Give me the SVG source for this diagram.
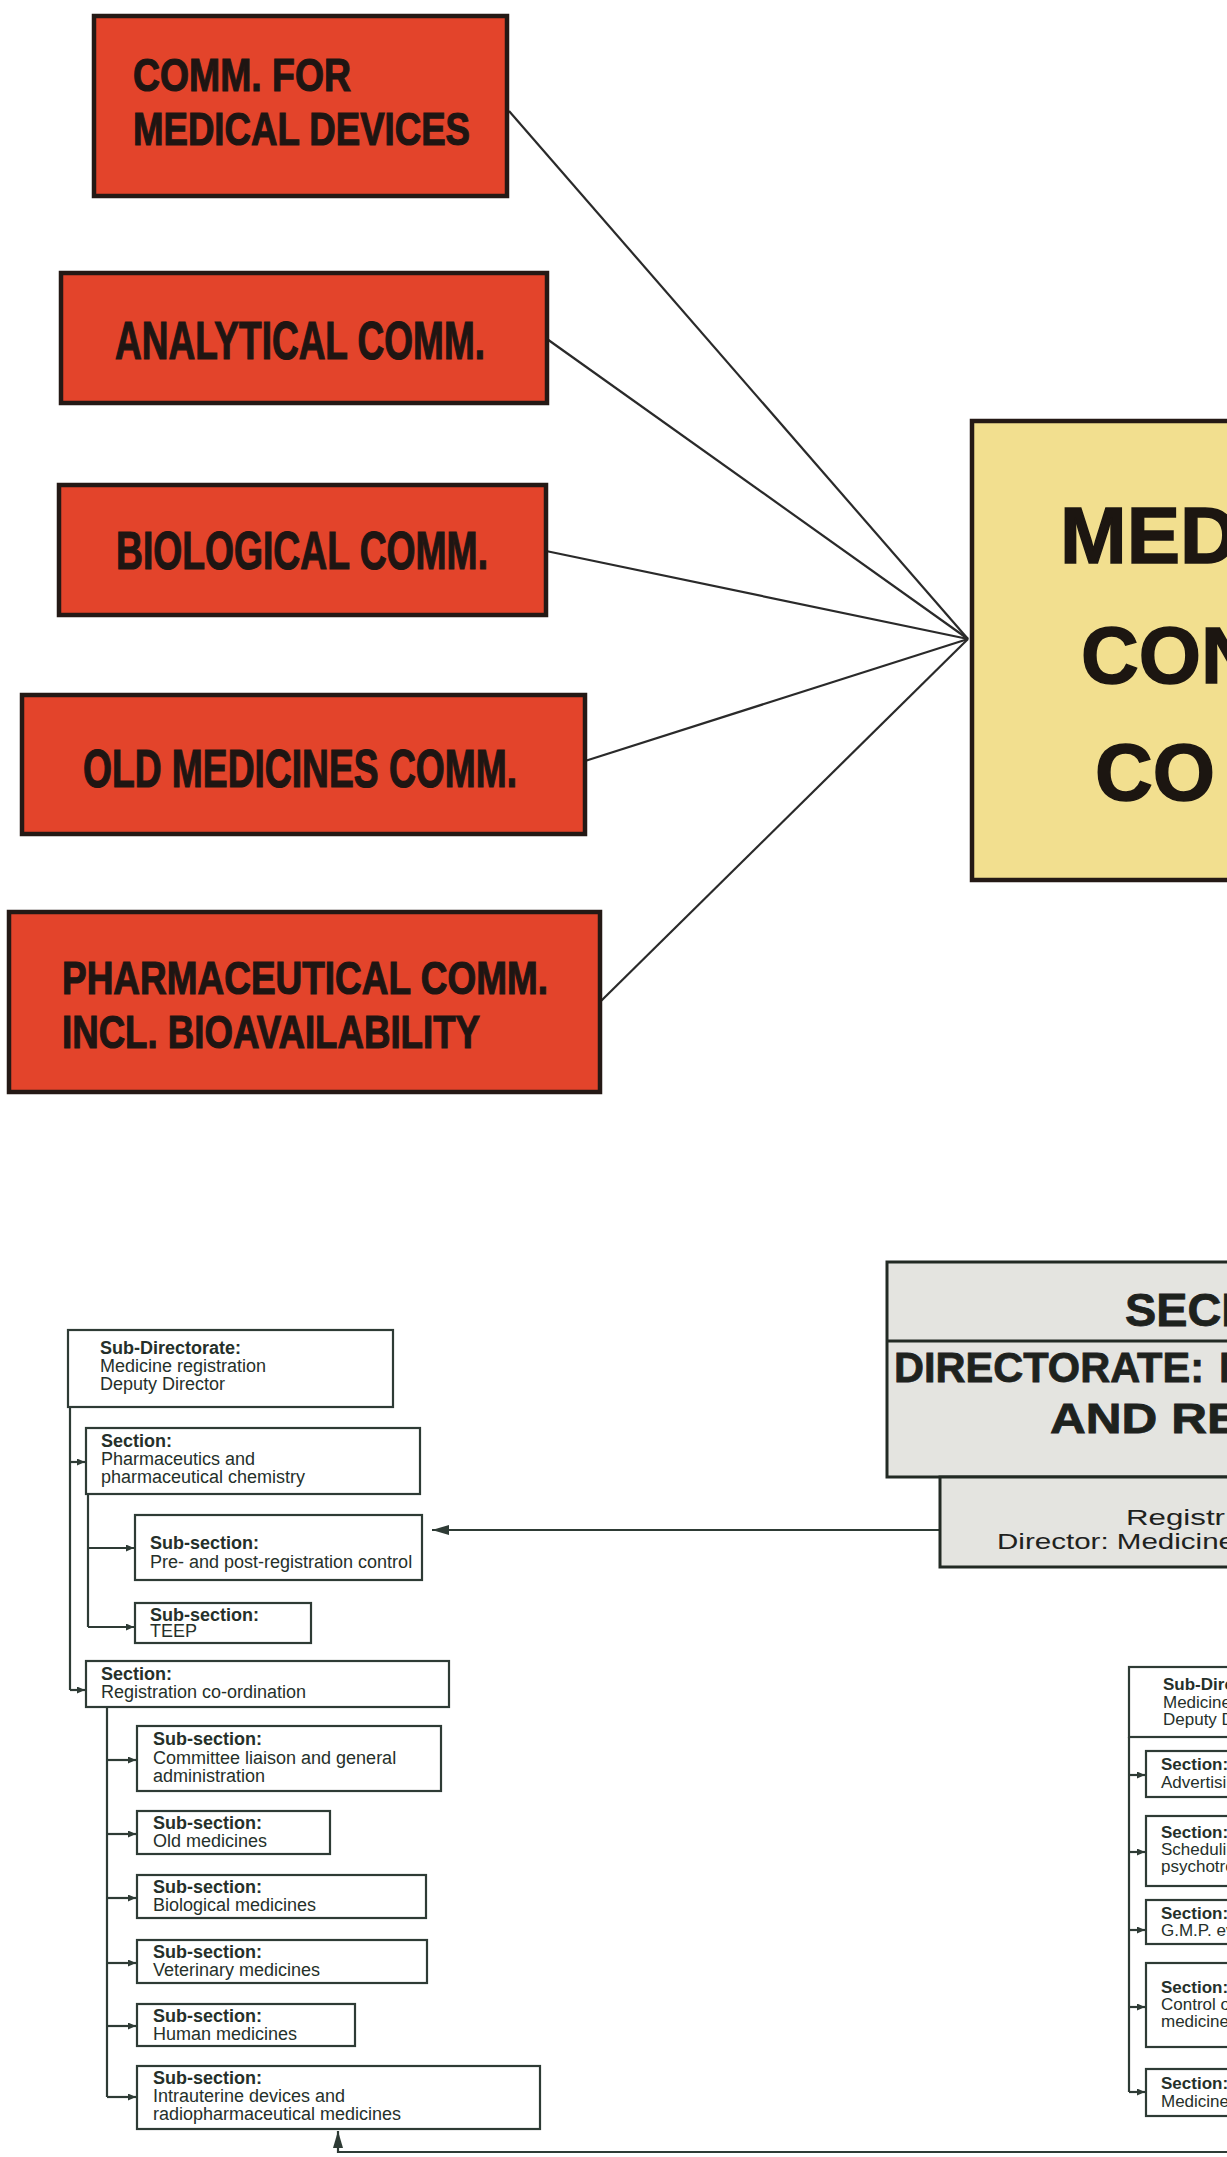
<svg xmlns="http://www.w3.org/2000/svg" width="1227" height="2157" viewBox="0 0 1227 2157">
<defs>
<style>
.red{fill:#e3442b;stroke:#241915;stroke-width:4.5}
.redtxt{font-family:"Liberation Sans",Arial,sans-serif;font-weight:bold;fill:#1f1512;stroke:#1f1512;stroke-width:1.2}
.yel{fill:#f2df8f;stroke:#241915;stroke-width:4.5}
.bigtxt{font-family:"Liberation Sans",Arial,sans-serif;font-weight:bold;font-size:80px;fill:#1c1611;stroke:#1c1611;stroke-width:1.5}
.sec{fill:#e4e4e0;stroke:#222a24;stroke-width:3}
.sectxt{font-family:"Liberation Sans",Arial,sans-serif;font-weight:bold;fill:#1e221e;stroke:#1e221e;stroke-width:0.8}
.regtxt{font-family:"Liberation Sans",Arial,sans-serif;font-size:22px;fill:#1e221e}
.box{fill:#ffffff;stroke:#2e3b35;stroke-width:2.2}
.t{font-family:"Liberation Sans",Arial,sans-serif;font-size:18px;fill:#25302a}
.tr{font-family:"Liberation Sans",Arial,sans-serif;font-size:17px;fill:#25302a}
.b{font-weight:bold}
.fan{stroke:#2a2a2a;stroke-width:2.2;fill:none}
.tree{stroke:#2e3b35;stroke-width:2.2;fill:none}
</style>
<marker id="ah" markerUnits="userSpaceOnUse" markerWidth="9" markerHeight="7" refX="8" refY="3.5" orient="auto">
<path d="M0,0 L8,3.5 L0,7 z" fill="#2e3b35"/>
</marker>
<marker id="ahBig" markerUnits="userSpaceOnUse" markerWidth="18" markerHeight="10" refX="17" refY="5" orient="auto">
<path d="M0,0 L17,5 L0,10 z" fill="#2e3b35"/>
</marker>
</defs>

<g id="connectors">
<line class="fan" x1="509" y1="111" x2="968" y2="639"/>
<line class="fan" x1="547" y1="339" x2="968" y2="639"/>
<line class="fan" x1="546" y1="551" x2="968" y2="639"/>
<line class="fan" x1="585" y1="761" x2="968" y2="639"/>
<line class="fan" x1="601" y1="1001" x2="968" y2="639"/>

<line class="tree" x1="940" y1="1530" x2="432" y2="1530" marker-end="url(#ahBig)"/>

<path class="tree" d="M70,1407 V1690"/>
<line class="tree" x1="70" y1="1462" x2="85" y2="1462" marker-end="url(#ah)"/>
<line class="tree" x1="70" y1="1690" x2="85" y2="1690" marker-end="url(#ah)"/>
<path class="tree" d="M88,1494 V1627"/>
<line class="tree" x1="88" y1="1548" x2="134" y2="1548" marker-end="url(#ah)"/>
<line class="tree" x1="88" y1="1627" x2="134" y2="1627" marker-end="url(#ah)"/>
<path class="tree" d="M107,1707 V2097"/>
<line class="tree" x1="107" y1="1760" x2="136" y2="1760" marker-end="url(#ah)"/>
<line class="tree" x1="107" y1="1834" x2="136" y2="1834" marker-end="url(#ah)"/>
<line class="tree" x1="107" y1="1898" x2="136" y2="1898" marker-end="url(#ah)"/>
<line class="tree" x1="107" y1="1963" x2="136" y2="1963" marker-end="url(#ah)"/>
<line class="tree" x1="107" y1="2026" x2="136" y2="2026" marker-end="url(#ah)"/>
<line class="tree" x1="107" y1="2097" x2="136" y2="2097" marker-end="url(#ah)"/>

<path class="tree" d="M1227,2152 H338 V2131" marker-end="url(#ahBig)"/>

<path class="tree" d="M1129,1737 V2092"/>
<line class="tree" x1="1129" y1="1775" x2="1145" y2="1775" marker-end="url(#ah)"/>
<line class="tree" x1="1129" y1="1852" x2="1145" y2="1852" marker-end="url(#ah)"/>
<line class="tree" x1="1129" y1="1930" x2="1145" y2="1930" marker-end="url(#ah)"/>
<line class="tree" x1="1129" y1="2007" x2="1145" y2="2007" marker-end="url(#ah)"/>
<line class="tree" x1="1129" y1="2092" x2="1145" y2="2092" marker-end="url(#ah)"/>
</g>

<g id="comm-medical-devices">
<rect class="red" x="94" y="16" width="413" height="180"/>
<text class="redtxt" x="133" y="91" font-size="47" textLength="218" lengthAdjust="spacingAndGlyphs">COMM. FOR</text>
<text class="redtxt" x="133" y="145" font-size="47" textLength="337" lengthAdjust="spacingAndGlyphs">MEDICAL DEVICES</text>
</g>
<g id="analytical-comm">
<rect class="red" x="61" y="273" width="486" height="130"/>
<text class="redtxt" x="115" y="359" font-size="53" textLength="370" lengthAdjust="spacingAndGlyphs">ANALYTICAL COMM.</text>
</g>
<g id="biological-comm">
<rect class="red" x="59" y="485" width="487" height="130"/>
<text class="redtxt" x="116" y="569" font-size="53" textLength="372" lengthAdjust="spacingAndGlyphs">BIOLOGICAL COMM.</text>
</g>
<g id="old-medicines-comm">
<rect class="red" x="22" y="695" width="563" height="139"/>
<text class="redtxt" x="83" y="787" font-size="53" textLength="434" lengthAdjust="spacingAndGlyphs">OLD MEDICINES COMM.</text>
</g>
<g id="pharmaceutical-comm">
<rect class="red" x="9" y="912" width="591" height="180"/>
<text class="redtxt" x="62" y="994" font-size="47" textLength="486" lengthAdjust="spacingAndGlyphs">PHARMACEUTICAL COMM.</text>
<text class="redtxt" x="62" y="1048" font-size="47" textLength="418" lengthAdjust="spacingAndGlyphs">INCL. BIOAVAILABILITY</text>
</g>

<g id="medicines-control-council">
<rect class="yel" x="972" y="421" width="300" height="459"/>
<text class="bigtxt" x="1060" y="563">MED</text>
<text class="bigtxt" x="1081" y="683">CON</text>
<text class="bigtxt" x="1095" y="800">CO</text>
</g>

<g id="secretariat">
<rect class="sec" x="887" y="1262" width="400" height="215"/>
<line x1="887" y1="1341" x2="1227" y2="1341" stroke="#222a24" stroke-width="3"/>
<text class="sectxt" x="1125" y="1326" font-size="46" textLength="130" lengthAdjust="spacingAndGlyphs">SECR</text>
<text class="sectxt" y="1382" font-size="42"><tspan x="894" textLength="310" lengthAdjust="spacingAndGlyphs">DIRECTORATE:</tspan><tspan x="1219">M</tspan></text>
<text class="sectxt" x="1050" y="1433" font-size="42" textLength="190" lengthAdjust="spacingAndGlyphs">AND RE</text>
</g>
<g id="registrar">
<rect class="sec" x="940" y="1477" width="300" height="90"/>
<text class="regtxt" x="1126" y="1525" textLength="99" lengthAdjust="spacingAndGlyphs">Registr</text>
<text class="regtxt" x="997" y="1549" textLength="238" lengthAdjust="spacingAndGlyphs">Director: Medicine</text>
</g>

<g id="subdir-registration">
<rect class="box" x="68" y="1330" width="325" height="77"/>
<text class="t b" x="100" y="1354">Sub-Directorate:</text>
<text class="t" x="100" y="1372">Medicine registration</text>
<text class="t" x="100" y="1390">Deputy Director</text>
</g>
<g id="section-pharmaceutics">
<rect class="box" x="86" y="1428" width="334" height="66"/>
<text class="t b" x="101" y="1447">Section:</text>
<text class="t" x="101" y="1465">Pharmaceutics and</text>
<text class="t" x="101" y="1483">pharmaceutical chemistry</text>
</g>
<g id="subsection-prepost">
<rect class="box" x="135" y="1515" width="287" height="65"/>
<text class="t b" x="150" y="1549">Sub-section:</text>
<text class="t" x="150" y="1568">Pre- and post-registration control</text>
</g>
<g id="subsection-teep">
<rect class="box" x="135" y="1603" width="176" height="40"/>
<text class="t b" x="150" y="1621">Sub-section:</text>
<text class="t" x="150" y="1637">TEEP</text>
</g>
<g id="section-registration">
<rect class="box" x="86" y="1661" width="363" height="46"/>
<text class="t b" x="101" y="1680">Section:</text>
<text class="t" x="101" y="1698">Registration co-ordination</text>
</g>
<g id="subsection-committee">
<rect class="box" x="137" y="1726" width="304" height="65"/>
<text class="t b" x="153" y="1745">Sub-section:</text>
<text class="t" x="153" y="1764">Committee liaison and general</text>
<text class="t" x="153" y="1782">administration</text>
</g>
<g id="subsection-old">
<rect class="box" x="137" y="1811" width="193" height="43"/>
<text class="t b" x="153" y="1829">Sub-section:</text>
<text class="t" x="153" y="1847">Old medicines</text>
</g>
<g id="subsection-biological">
<rect class="box" x="137" y="1875" width="289" height="43"/>
<text class="t b" x="153" y="1893">Sub-section:</text>
<text class="t" x="153" y="1911">Biological medicines</text>
</g>
<g id="subsection-veterinary">
<rect class="box" x="137" y="1940" width="290" height="43"/>
<text class="t b" x="153" y="1958">Sub-section:</text>
<text class="t" x="153" y="1976">Veterinary medicines</text>
</g>
<g id="subsection-human">
<rect class="box" x="137" y="2004" width="218" height="42"/>
<text class="t b" x="153" y="2022">Sub-section:</text>
<text class="t" x="153" y="2040">Human medicines</text>
</g>
<g id="subsection-intrauterine">
<rect class="box" x="137" y="2066" width="403" height="63"/>
<text class="t b" x="153" y="2084">Sub-section:</text>
<text class="t" x="153" y="2102">Intrauterine devices and</text>
<text class="t" x="153" y="2120">radiopharmaceutical medicines</text>
</g>

<g id="subdir-control">
<rect class="box" x="1129" y="1667" width="120" height="70"/>
<text class="tr b" x="1163" y="1690">Sub-Dire</text>
<text class="tr" x="1163" y="1708">Medicine</text>
<text class="tr" x="1163" y="1725">Deputy D</text>
</g>
<g id="section-advertising">
<rect class="box" x="1146" y="1751" width="100" height="46"/>
<text class="tr b" x="1161" y="1770">Section:</text>
<text class="tr" x="1161" y="1788">Advertisin</text>
</g>
<g id="section-scheduling">
<rect class="box" x="1146" y="1816" width="100" height="70"/>
<text class="tr b" x="1161" y="1838">Section:</text>
<text class="tr" x="1161" y="1855">Schedulin</text>
<text class="tr" x="1161" y="1872">psychotro</text>
</g>
<g id="section-gmp">
<rect class="box" x="1146" y="1900" width="100" height="44"/>
<text class="tr b" x="1161" y="1919">Section:</text>
<text class="tr" x="1161" y="1936">G.M.P. ev</text>
</g>
<g id="section-control">
<rect class="box" x="1146" y="1963" width="100" height="84"/>
<text class="tr b" x="1161" y="1993">Section:</text>
<text class="tr" x="1161" y="2010">Control o</text>
<text class="tr" x="1161" y="2027">medicine</text>
</g>
<g id="section-medicine">
<rect class="box" x="1146" y="2069" width="100" height="47"/>
<text class="tr b" x="1161" y="2089">Section:</text>
<text class="tr" x="1161" y="2107">Medicine</text>
</g>
</svg>
